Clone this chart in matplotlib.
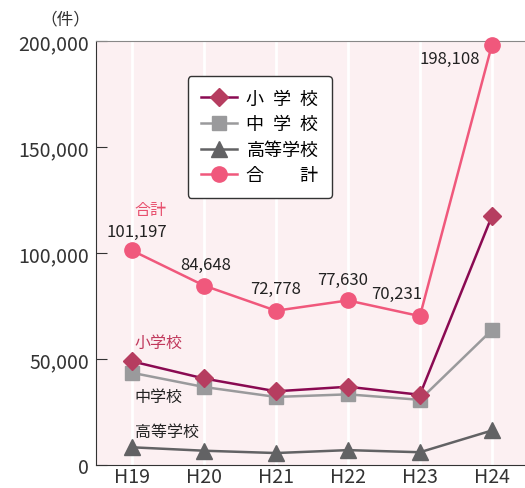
import matplotlib
matplotlib.use("Agg")
import matplotlib.pyplot as plt
import numpy as np

plt.rcParams['font.family'] = ['Noto Sans CJK JP', 'DejaVu Sans']

years = ["H19", "H20", "H21", "H22", "H23", "H24"]
elementary = [48896, 40807, 34766, 36909, 33124, 117384]
junior = [43505, 36795, 32111, 33323, 30749, 63634]
high = [8355, 6737, 5642, 7018, 6020, 16274]
total = [101197, 84648, 72778, 77630, 70231, 198108]
total_labels = ["101,197", "84,648", "72,778", "77,630", "70,231", "198,108"]
yticks = [0, 50000, 100000, 150000, 200000]

fig = plt.figure(figsize=(5.25, 4.89), dpi=100)
ax = fig.add_axes([96/525, 23/489, 429/525, 424/489])
ax.set_facecolor('#fcf0f2')

x = np.arange(len(years))
for xi in x:
    ax.axvline(xi, color='white', lw=2, zorder=0)

ax.plot(x, total, color='#f0587c', lw=1.8, marker='o', ms=11, label='合\u3000\u3000計',
        zorder=3, clip_on=False)
ax.plot(x, junior, color='#9a9a9c', lw=1.8, marker='s', ms=9.5,
        label='中\u2002学\u2002校', zorder=3)
ax.plot(x, high, color='#626264', lw=1.8, marker='^', ms=12, label='高等学校', zorder=3,
        clip_on=False)
ax.plot(x, elementary, color='#8a0a52', lw=1.8, marker='D', ms=9,
        mfc='#b63d60', mec='#b63d60', label='小\u2002学\u2002校', zorder=4)

# label offsets in pixels from each point
offs = [(5, 19), (2, 21), (0, 22), (-5, 21), (-23, 23), (-42, -13)]
for xi, v, lab, o in zip(x, total, total_labels, offs):
    ax.annotate(lab, (xi, v), xytext=o, textcoords='offset pixels',
                ha='center', va='center', fontsize=12, color='#222222')

ax.text(0.04, 120300, '合計', color='#e8506e', fontsize=11.5, ha='left', va='center')
ax.text(0.04, 58000, '小学校', color='#c0385c', fontsize=11.5, ha='left', va='center')
ax.text(0.04, 32500, '中学校', color='#222222', fontsize=11.5, ha='left', va='center')
ax.text(0.04, 15600, '高等学校', color='#222222', fontsize=11.5, ha='left', va='center')

ax.set_xlim(-0.5, 5.46)
ax.set_ylim(0, 200000)
ax.set_xticks(x)
ax.set_xticklabels(years, fontsize=14, color='#333333')
ax.set_yticks(yticks)
ax.set_yticklabels([f"{v:,}" for v in yticks], fontsize=14, color='#333333')
ax.tick_params(axis='y', direction='in', length=8, color='#333333', pad=5)
ax.tick_params(axis='x', length=0, pad=1)

ax.spines['right'].set_visible(False)
ax.spines['top'].set_color('#888888')
ax.spines['left'].set_color('#333333')
ax.spines['bottom'].set_color('#333333')

handles, labels = ax.get_legend_handles_labels()
order = [3, 1, 2, 0]
leg = ax.legend([handles[i] for i in order], [labels[i] for i in order],
                loc='upper left', bbox_to_anchor=(0.214, 0.917), borderaxespad=0,
                fontsize=13, frameon=True, fancybox=True, edgecolor='#333333',
                facecolor='white', framealpha=1, handlelength=2.0, handletextpad=0.5,
                borderpad=0.75, labelspacing=0.42)
leg.get_frame().set_linewidth(1.0)

fig.text(40/525, 1 - 20/489, '（件）', fontsize=12, ha='left', va='center', color='#333333')

fig.savefig('out.png', dpi=100)
